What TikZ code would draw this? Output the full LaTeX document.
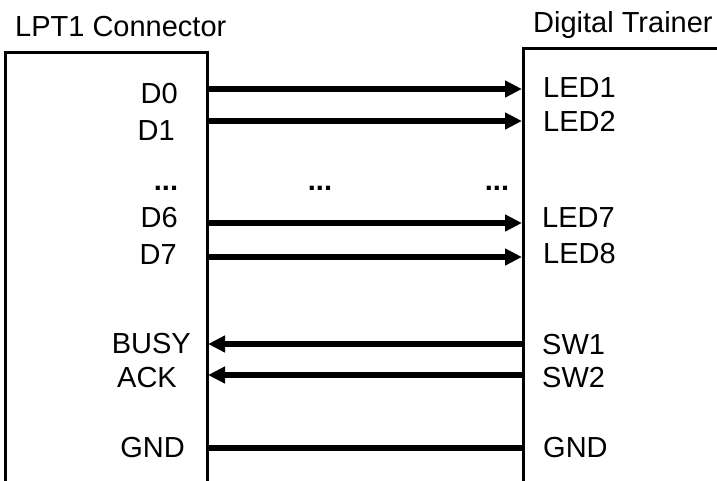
\documentclass[tikz,border=0pt]{standalone}
\usepackage{fontspec}
\setmainfont{Liberation Sans}
\usetikzlibrary{arrows.meta}
\begin{document}
\begin{tikzpicture}[x=1pt,y=-1pt,
  lbl/.style={font=\fontsize{29}{33}\selectfont, inner sep=0pt},
  lft/.style={lbl, anchor=base east},
  rgt/.style={lbl, anchor=base west},
  dotsn/.style={lbl, anchor=base, font=\fontsize{29}{33}\selectfont\bfseries},
  boxline/.style={line width=3pt},
  sig/.style={line width=5.5pt},
  arr/.style={sig, -{Triangle[length=17pt,width=16pt]}}]
\useasboundingbox (0,0) rectangle (717,480);
% boxes (open at the bottom)
\draw[boxline] (5,490) -- (5,52) -- (207,52) -- (207,490);
\draw[boxline] (523,490) -- (523,48) -- (725,48);
% titles
\node[rgt] (t1) at (15,36) {LPT1 Connector};
\node[rgt] (t2) at (533,32) {Digital Trainer};
% left labels
\node[lft] (d0) at (178,103) {D0};
\node[lft] (d1) at (175,140) {D1};
\node[dotsn] (dl) at (166,190) {...};
\node[lft] (d6) at (178,227) {D6};
\node[lft] (d7) at (177,264) {D7};
\node[lft] (busy) at (191,353) {BUSY};
\node[lft] (ack) at (177,387) {ACK};
\node[lft] (gl) at (185,457) {GND};
% right labels
\node[rgt] (l1) at (543,97) {LED1};
\node[rgt] (l2) at (543,131) {LED2};
\node[dotsn] (dr) at (497,190) {...};
\node[dotsn] (dm) at (320,190) {...};
\node[rgt] (l7) at (542,227) {LED7};
\node[rgt] (l8) at (543,263) {LED8};
\node[rgt] (s1) at (542,354) {SW1};
\node[rgt] (s2) at (542,387) {SW2};
\node[rgt] (gr) at (543,457) {GND};
% connector end points on the box edges
\foreach \n/\y in {a/89,b/121,c/223,d/257,e/344,f/375,g/448}{
  \coordinate (L\n) at (207,\y);
  \coordinate (R\n) at (522,\y);
}
\coordinate (Lx) at (208,344);
\coordinate (Ly) at (208,375);
% connectors
\draw[arr] (La) -- (Ra);
\draw[arr] (Lb) -- (Rb);
\draw[arr] (Lc) -- (Rc);
\draw[arr] (Ld) -- (Rd);
\draw[arr] (Re) -- (Lx);
\draw[arr] (Rf) -- (Ly);
\draw[sig] (Lg) -- (Rg);
\end{tikzpicture}
\end{document}
